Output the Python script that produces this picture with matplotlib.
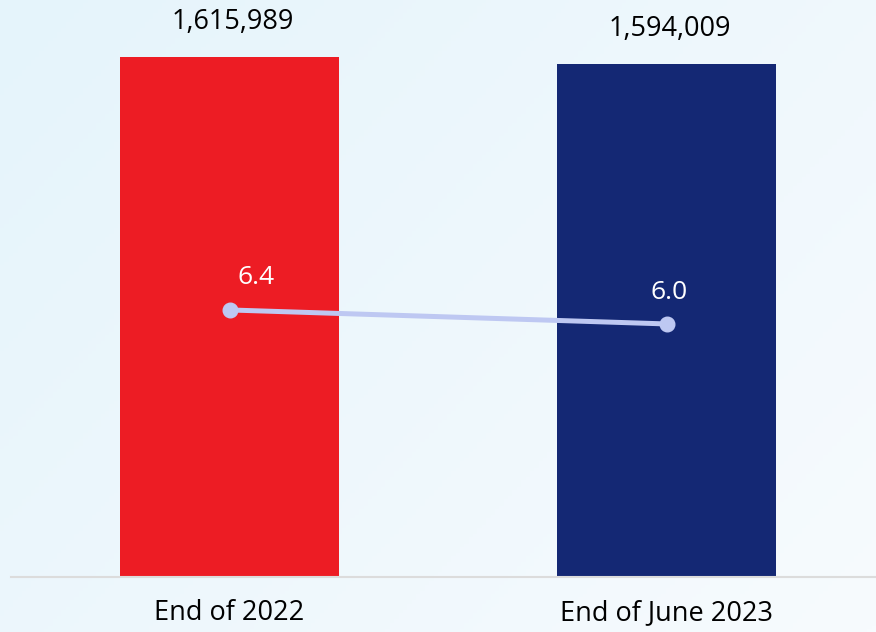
import numpy as np
import matplotlib.pyplot as plt
from matplotlib.colors import LinearSegmentedColormap

categories = ['End of 2022', 'End of June 2023']
totals = [1615989, 1594009]
rates = [6.4, 6.0]
bar_colors = ['#ED1C24', '#142874']

plt.rcParams['font.family'] = ['Open Sans', 'DejaVu Sans']

fig = plt.figure(figsize=(8.76, 6.32), dpi=100)

# background gradient
bg = fig.add_axes([0, 0, 1, 1], zorder=-10)
gx, gy = np.meshgrid(np.linspace(0, 1, 200), np.linspace(0, 1, 200))
cmap = LinearSegmentedColormap.from_list('bg', ['#E5F4FB', '#F7FBFE'])
bg.imshow(gx * 0.6 + gy * 0.4, cmap=cmap, aspect='auto', extent=[0, 1, 0, 1], origin='upper')
bg.set_axis_off()

ax = fig.add_axes([11 / 876, 55 / 632, 865 / 876, 577 / 632])
ax.patch.set_alpha(0)
x = np.arange(len(categories))
ax.bar(x, totals, width=0.501, color=bar_colors, zorder=2)
ax.set_xlim(-0.5, 1.479)
ax.set_ylim(0, 1615989 * 577 / 520)
for s in ['top', 'right', 'left']:
    ax.spines[s].set_visible(False)
ax.spines['bottom'].set_color('#DCDCDC')
ax.spines['bottom'].set_linewidth(1.5)
ax.set_yticks([])
ax.set_xticks(x)
ax.set_xticklabels(categories, fontsize=19.5, color='black')
ax.tick_params(axis='x', length=0, pad=16)

for xi, v in zip(x, totals):
    ax.annotate(f'{v:,}', (xi, v), xytext=(2, 25.5), textcoords='offset points',
                ha='center', va='center', fontsize=19.5, color='black')

ax2 = ax.twinx()
ax2.set_ylim(-1.23, -1.23 + 577 / 35)
ax2.set_axis_off()
ax2.plot(x, rates, color='#BEC8F2', lw=3.6, marker='o', ms=10.5, zorder=3)
offsets = [(19.4, 23.5), (2, 22.8)]
for xi, r, off in zip(x, rates, offsets):
    ax2.annotate(f'{r:.1f}', (xi, r), xytext=off, textcoords='offset points',
                 ha='center', va='center', fontsize=19, color='white')

fig.savefig('out.png', dpi=100)
